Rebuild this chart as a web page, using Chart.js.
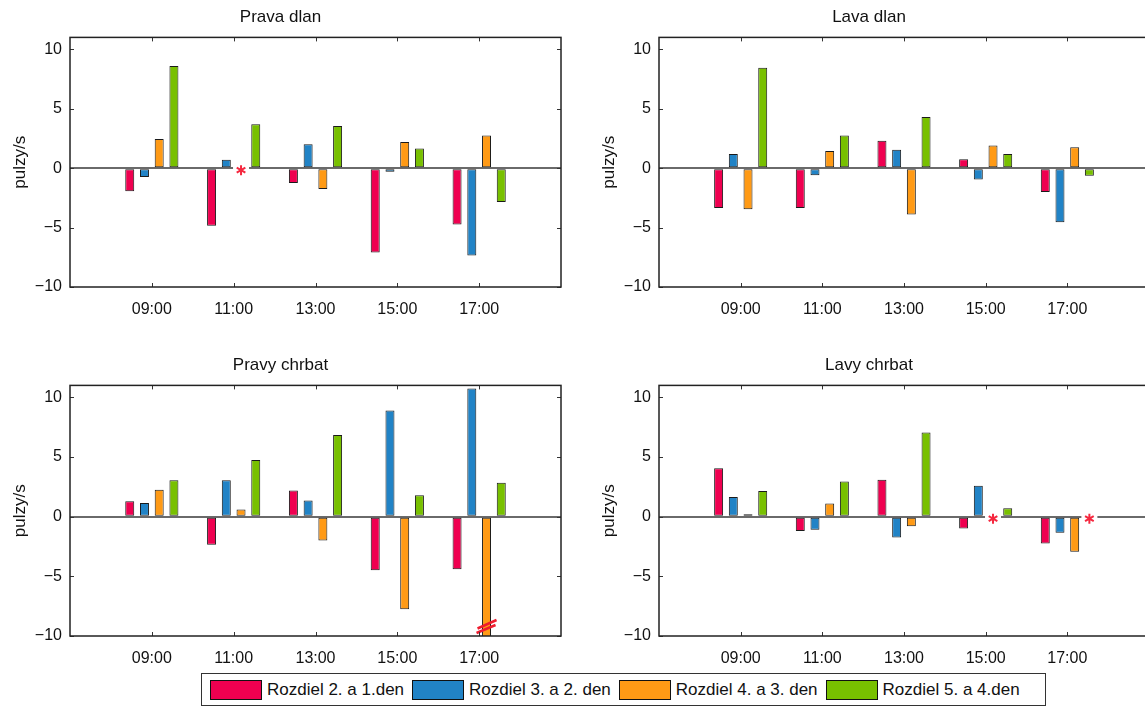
<!DOCTYPE html>
<html>
<head>
<meta charset="utf-8">
<script src="https://cdn.jsdelivr.net/npm/chart.js@4.4.1/dist/chart.umd.min.js"></script>
<style>
  body { margin: 0; width: 1145px; height: 707px; overflow: hidden; background: #fff; position: relative;
         font-family: 'Liberation Sans', Arial, sans-serif; }
  .panel { position: absolute; }
  #legend { position: absolute; left: 201px; top: 673px; width: 845px; height: 33px; box-sizing: border-box;
            border: 1px solid #333; display: flex; align-items: center; padding-left: 8px; font-size: 17px; color: #111; }
  .item { display: flex; align-items: center; margin-right: 8px; }
  .sw { width: 52px; height: 20px; border: 1px solid #111; box-sizing: border-box; margin-right: 5px; }
</style>
</head>
<body>
<div class="panel" style="left:0;top:0"><canvas id="c1" width="631" height="320"></canvas></div>
<div class="panel" style="left:589px;top:0"><canvas id="c2" width="630" height="320"></canvas></div>
<div class="panel" style="left:0;top:348px"><canvas id="c3" width="631" height="321"></canvas></div>
<div class="panel" style="left:589px;top:348px"><canvas id="c4" width="630" height="321"></canvas></div>
<div id="legend"></div>
<script>
const categories = ['09:00', '11:00', '13:00', '15:00', '17:00'];
const seriesNames = ['Rozdiel 2. a 1.den', 'Rozdiel 3. a 2. den', 'Rozdiel 4. a 3. den', 'Rozdiel 5. a 4.den'];
const seriesColors = ['#EF0050', '#2183C6', '#FF9A15', '#78C000'];
const yTicks = [-10, -5, 0, 5, 10];

// Prava dlan
const pravaDlan1 = [-1.95, -4.85, -1.25, -7.1, -4.75];
const pravaDlan2 = [-0.75, 0.7, 2.0, -0.3, -7.35];
const pravaDlan3 = [2.45, null, -1.75, 2.2, 2.75];
const pravaDlan4 = [8.6, 3.7, 3.55, 1.65, -2.85];
const pravaDlanMissing = [[2, 1]];

// Lava dlan
const lavaDlan1 = [-3.35, -3.35, 2.3, 0.75, -2.0];
const lavaDlan2 = [1.2, -0.6, 1.55, -0.95, -4.55];
const lavaDlan3 = [-3.45, 1.45, -3.9, 1.9, 1.75];
const lavaDlan4 = [8.45, 2.75, 4.3, 1.2, -0.65];

// Pravy chrbat (orange 17:00 is off the scale)
const pravyChrbat1 = [1.3, -2.35, 2.2, -4.5, -4.4];
const pravyChrbat2 = [1.15, 3.05, 1.35, 8.9, 10.75];
const pravyChrbat3 = [2.25, 0.6, -2.0, -7.75, -11.5];
const pravyChrbat4 = [3.05, 4.75, 6.85, 1.8, 2.85];
const pravyChrbatBreaks = [[2, 4]];

// Lavy chrbat
const lavyChrbat1 = [4.05, -1.2, 3.1, -1.0, -2.25];
const lavyChrbat2 = [1.65, -1.1, -1.75, 2.6, -1.35];
const lavyChrbat3 = [0.2, 1.1, -0.8, null, -2.95];
const lavyChrbat4 = [2.15, 2.95, 7.05, 0.7, null];
const lavyChrbatMissing = [[2, 3], [3, 4]];

Chart.defaults.font.family = "'Liberation Sans', Arial, sans-serif";
Chart.defaults.color = '#111';

function barX(chart, ds, i) {
    const meta = chart.getDatasetMeta(ds);
    const el = meta.data[i + 1];
    if (el && isFinite(el.x)) return el.x;
    const xs = chart.scales.x;
    for (let j = 0; j < meta.data.length; j++) {
        if (meta.data[j] && isFinite(meta.data[j].x) && chart.data.datasets[ds].data[j] !== null) {
            return meta.data[j].x - xs.getPixelForValue(j) + xs.getPixelForValue(i + 1);
        }
    }
    return xs.getPixelForValue(i + 1);
}

const marksPlugin = {
    id: 'marks',
    afterDatasetsDraw(chart, args, opts) {
        const ctx = chart.ctx;
        const a = chart.chartArea;
        const y0 = chart.scales.y.getPixelForValue(0);
        ctx.save();
        (opts.missing || []).forEach(([ds, i]) => {
            const cx = barX(chart, ds, i);
            ctx.fillStyle = '#fff';
            ctx.fillRect(cx - 8, y0 - 2, 16, 4);
            ctx.strokeStyle = '#F5283F';
            ctx.lineWidth = 2;
            ctx.beginPath();
            for (let k = 0; k < 3; k++) {
                const ang = Math.PI / 2 + k * Math.PI / 3;
                const r = 5;
                ctx.moveTo(cx + r * Math.cos(ang), y0 + 2 + r * Math.sin(ang));
                ctx.lineTo(cx - r * Math.cos(ang), y0 + 2 - r * Math.sin(ang));
            }
            ctx.stroke();
        });
        (opts.breaks || []).forEach(([ds, i]) => {
            const cx = barX(chart, ds, i);
            const yb = a.bottom;
            ctx.strokeStyle = '#EE1C2E';
            ctx.lineWidth = 2.5;
            ctx.beginPath();
            ctx.moveTo(cx - 10, yb - 3); ctx.lineTo(cx + 9, yb - 11);
            ctx.moveTo(cx - 9, yb - 7.5); ctx.lineTo(cx + 10, yb - 16);
            ctx.stroke();
        });
        ctx.restore();
    },
    afterDraw(chart) {
        const ctx = chart.ctx;
        const a = chart.chartArea;
        const xs = chart.scales.x, ys = chart.scales.y;
        ctx.save();
        ctx.strokeStyle = '#333';
        ctx.lineWidth = 1;
        ctx.beginPath();
        xs.ticks.forEach((t, i) => {
            if (!t.label) return;
            const px = Math.round(xs.getPixelForTick(i)) + 0.5;
            ctx.moveTo(px, a.top); ctx.lineTo(px, a.top + 4);
            ctx.moveTo(px, a.bottom); ctx.lineTo(px, a.bottom - 4);
        });
        ys.ticks.forEach((t, i) => {
            const py = Math.round(ys.getPixelForTick(i)) + 0.5;
            ctx.moveTo(a.left, py); ctx.lineTo(a.left + 4, py);
            ctx.moveTo(a.right, py); ctx.lineTo(a.right - 4, py);
        });
        ctx.stroke();
        ctx.strokeStyle = '#222';
        ctx.lineWidth = 1.5;
        ctx.strokeRect(a.left, a.top, a.right - a.left, a.bottom - a.top);
        ctx.restore();
    }
};

function makeChart(id, title, series, missing, breaks) {
    const labels = ['', ...categories, ''];
    const datasets = series.map((vals, k) => ({
        label: seriesNames[k],
        data: [null, ...vals, null],
        backgroundColor: seriesColors[k],
        borderColor: '#1a1a1a',
        borderWidth: 1,
        borderSkipped: false,
        categoryPercentage: 0.72,
        barPercentage: 0.61,
        clip: 0
    }));
    return new Chart(document.getElementById(id), {
        type: 'bar',
        data: { labels: labels, datasets: datasets },
        options: {
            responsive: false,
            animation: false,
            layout: { padding: { right: 70 } },
            plugins: {
                legend: { display: false },
                tooltip: { enabled: false },
                title: {
                    display: true, text: title, color: '#111',
                    font: { size: 17, weight: 'normal' },
                    padding: { top: 7, bottom: 10 }
                },
                marks: { missing: missing, breaks: breaks }
            },
            scales: {
                x: {
                    offset: false,
                    grid: { display: false },
                    border: { display: false },
                    afterFit: s => { s.height = 33; },
                    ticks: { autoSkip: false, maxRotation: 0, padding: 5, font: { size: 16 } }
                },
                y: {
                    min: -10, max: 11,
                    afterBuildTicks: s => { s.ticks = yTicks.map(v => ({ value: v })); },
                    afterFit: s => { s.width = 70; },
                    grid: {
                        drawTicks: false,
                        color: c => (c.tick && c.tick.value === 0) ? '#6a6a6a' : 'rgba(0,0,0,0)',
                        lineWidth: c => (c.tick && c.tick.value === 0) ? 2 : 1
                    },
                    border: { display: false },
                    ticks: {
                        padding: 8, font: { size: 16 },
                        callback: v => v < 0 ? '\u2212' + Math.abs(v) : String(v)
                    },
                    title: { display: true, text: 'pulzy/s', font: { size: 17 }, padding: { top: 10, bottom: 0 } }
                }
            }
        },
        plugins: [marksPlugin]
    });
}

makeChart('c1', 'Prava dlan', [pravaDlan1, pravaDlan2, pravaDlan3, pravaDlan4], pravaDlanMissing, []);
makeChart('c2', 'Lava dlan', [lavaDlan1, lavaDlan2, lavaDlan3, lavaDlan4], [], []);
makeChart('c3', 'Pravy chrbat', [pravyChrbat1, pravyChrbat2, pravyChrbat3, pravyChrbat4], [], pravyChrbatBreaks);
makeChart('c4', 'Lavy chrbat', [lavyChrbat1, lavyChrbat2, lavyChrbat3, lavyChrbat4], lavyChrbatMissing, []);

const legend = document.getElementById('legend');
seriesNames.forEach((name, k) => {
    const item = document.createElement('div');
    item.className = 'item';
    item.innerHTML = `<span class="sw" style="background:${seriesColors[k]}"></span><span>${name}</span>`;
    legend.appendChild(item);
});
</script>
</body>
</html>
